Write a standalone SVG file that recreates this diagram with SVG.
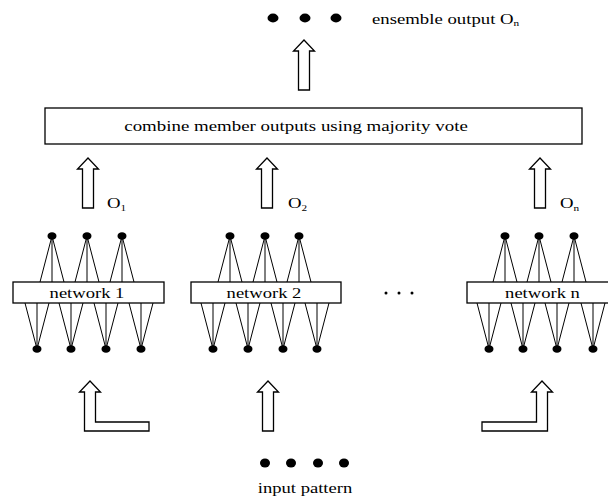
<svg xmlns="http://www.w3.org/2000/svg" width="608" height="500" viewBox="0 0 608 500">
  <style>
    .t { font-family: "Liberation Serif", "Times New Roman", serif; font-size: 15px; fill: #000; }
    .sub { font-size: 9px; }
    .box { fill: #fff; stroke: #000; stroke-width: 1.3; }
    .ln { stroke: #000; stroke-width: 1; fill: none; }
    .arrow { fill: #fff; stroke: #000; stroke-width: 1.3; stroke-linejoin: miter; }
    .dot { fill: #000; }
  </style>
  <defs>
    <!-- a hidden unit fanning into the layer below -->
    <g id="topFan">
      <line class="ln" x1="0" y1="0" x2="-12" y2="46"/>
      <line class="ln" x1="0" y1="0" x2="0" y2="46"/>
      <line class="ln" x1="0" y1="0" x2="12" y2="46"/>
      <ellipse class="dot" cx="0" cy="0" rx="4.5" ry="3.8"/>
    </g>
    <!-- an input unit fed from the layer above -->
    <g id="bottomFan">
      <line class="ln" x1="-12" y1="-46" x2="0" y2="0"/>
      <line class="ln" x1="0" y1="-46" x2="0" y2="0"/>
      <line class="ln" x1="12" y1="-46" x2="0" y2="0"/>
      <ellipse class="dot" cx="0" cy="0" rx="4.5" ry="3.8"/>
    </g>
  </defs>

  <!-- ensemble output -->
  <g id="ensemble-output">
    <ellipse class="dot" cx="273" cy="18" rx="5.5" ry="4.4"/>
    <ellipse class="dot" cx="305" cy="18" rx="5.5" ry="4.4"/>
    <ellipse class="dot" cx="336" cy="18" rx="5.5" ry="4.4"/>
    <text class="t" transform="translate(372,23.5) scale(1.25,1)">ensemble output O<tspan class="sub" dy="2.5">n</tspan></text>
  </g>

  <!-- combiner -->
  <g id="combiner">
    <rect class="box" x="45" y="108" width="537" height="36"/>
    <text class="t" text-anchor="middle" transform="translate(296,131) scale(1.26,1)">combine member outputs using majority vote</text>
  </g>

  <!-- network 1 -->
  <g id="network-1">
    <use href="#topFan" x="52" y="236"/>
    <use href="#topFan" x="87" y="236"/>
    <use href="#topFan" x="122" y="236"/>
    <use href="#bottomFan" x="37" y="349"/>
    <use href="#bottomFan" x="71" y="349"/>
    <use href="#bottomFan" x="106" y="349"/>
    <use href="#bottomFan" x="141" y="349"/>
    <rect class="box" x="13" y="282" width="151" height="21"/>
    <text class="t" text-anchor="middle" transform="translate(87,297.5) scale(1.24,1)">network 1</text>
  </g>

  <!-- network 2 -->
  <g id="network-2">
    <use href="#topFan" x="230" y="236"/>
    <use href="#topFan" x="265" y="236"/>
    <use href="#topFan" x="299" y="236"/>
    <use href="#bottomFan" x="213" y="349"/>
    <use href="#bottomFan" x="248" y="349"/>
    <use href="#bottomFan" x="283" y="349"/>
    <use href="#bottomFan" x="317" y="349"/>
    <rect class="box" x="191" y="282" width="150" height="21"/>
    <text class="t" text-anchor="middle" transform="translate(264,297.5) scale(1.24,1)">network 2</text>
  </g>

  <!-- ellipsis between networks -->
  <g id="more-networks">
    <circle class="dot" cx="386" cy="293" r="1.5"/>
    <circle class="dot" cx="399" cy="293" r="1.5"/>
    <circle class="dot" cx="412" cy="293" r="1.5"/>
  </g>

  <!-- network n -->
  <g id="network-n">
    <use href="#topFan" x="505" y="236"/>
    <use href="#topFan" x="539" y="236"/>
    <use href="#topFan" x="574" y="236"/>
    <use href="#bottomFan" x="489" y="349"/>
    <use href="#bottomFan" x="523" y="349"/>
    <use href="#bottomFan" x="557" y="349"/>
    <use href="#bottomFan" x="593" y="349"/>
    <rect class="box" x="467" y="282" width="151" height="21"/>
    <text class="t" text-anchor="middle" transform="translate(542.5,297.5) scale(1.24,1)">network n</text>
  </g>

  <!-- input pattern -->
  <g id="input-pattern">
    <ellipse class="dot" cx="265" cy="463" rx="5" ry="4.5"/>
    <ellipse class="dot" cx="291" cy="463" rx="5" ry="4.5"/>
    <ellipse class="dot" cx="318" cy="463" rx="5" ry="4.5"/>
    <ellipse class="dot" cx="344" cy="463" rx="5" ry="4.5"/>
    <text class="t" text-anchor="middle" transform="translate(305,493) scale(1.24,1)">input pattern</text>
  </g>

  <!-- block arrows -->
  <g id="connectors">
    <!-- combiner to ensemble output -->
    <polygon class="arrow" points="304,40 314.5,51 309.5,51 309.5,90 298.5,90 298.5,51 293.5,51"/>
    <!-- member outputs to combiner -->
    <polygon class="arrow" points="88,158 98.5,169 93.5,169 93.5,208 82.5,208 82.5,169 77.5,169"/>
    <polygon class="arrow" points="267,158 277.5,169 272.5,169 272.5,208 261.5,208 261.5,169 256.5,169"/>
    <polygon class="arrow" points="540,158 550.5,169 545.5,169 545.5,208 534.5,208 534.5,169 529.5,169"/>
    <!-- input pattern to each network -->
    <polygon class="arrow" points="90,381 100.5,392 95.5,392 95.5,422 149,422 149,431 84.5,431 84.5,392 79.5,392"/>
    <polygon class="arrow" points="268,381 278.5,392 273.5,392 273.5,431 262.5,431 262.5,392 257.5,392"/>
    <polygon class="arrow" points="542,381 552.5,392 547.5,392 547.5,431 482,431 482,422 536.5,422 536.5,392 531.5,392"/>
  </g>

  <!-- member output labels -->
  <g id="output-labels">
    <text class="t" transform="translate(107,208) scale(1.25,1)">O<tspan class="sub" dy="2.5">1</tspan></text>
    <text class="t" transform="translate(288,208) scale(1.25,1)">O<tspan class="sub" dy="2.5">2</tspan></text>
    <text class="t" transform="translate(560,208) scale(1.25,1)">O<tspan class="sub" dy="2.5">n</tspan></text>
  </g>
</svg>
